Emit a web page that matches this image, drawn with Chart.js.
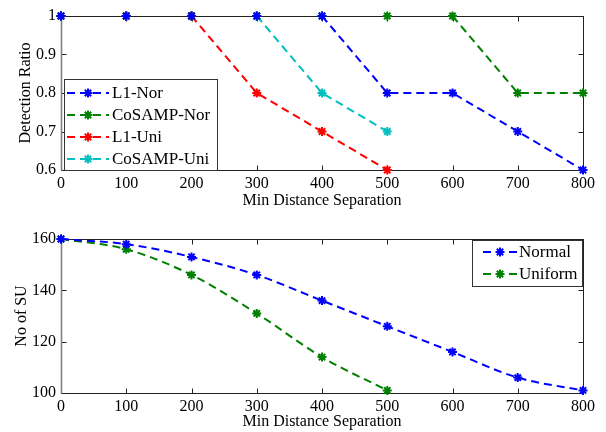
<!DOCTYPE html>
<html>
<head>
<meta charset="utf-8">
<script src="https://cdn.jsdelivr.net/npm/chart.js@4.4.1/dist/chart.umd.min.js"></script>
<style>
  body { margin: 0; background: #fff; }
  .panel { position: absolute; left: 0; width: 606px; height: 216px; }
</style>
</head>
<body>
<div class="panel" style="top:0"><canvas id="chart1" width="606" height="216"></canvas></div>
<div class="panel" style="top:216px"><canvas id="chart2" width="606" height="216"></canvas></div>
<script>
const distances = [0, 100, 200, 300, 400, 500, 600, 700, 800];
const l1Nor = [1, 1, 1, 1, 1, 0.8, 0.8, 0.7, 0.6];
const cosampNor = [1, 1, 1, 1, 1, 1, 1, 0.8, 0.8];
const l1Uni = [1, 1, 1, 0.8, 0.7, 0.6];
const cosampUni = [1, 1, 1, 1, 0.8, 0.7];
const suNormal = [160, 158, 153, 146, 136, 126, 116, 106, 101];
const suUniform = [160, 156, 146, 131, 114, 101];
const ratioTicks = [0.6, 0.7, 0.8, 0.9, 1];
const suTicks = [100, 120, 140, 160];

Chart.defaults.font.family = '"Liberation Serif", "Times New Roman", serif';
Chart.defaults.font.size = 16;
Chart.defaults.color = '#000';

const toPoints = vals => vals.map((v, i) => ({ x: distances[i], y: v }));

// a dashed series with star markers, in the old plotting style
function series(label, color, vals, opts) {
  const o = opts || {};
  return {
    label: label,
    data: toPoints(vals),
    borderColor: color,
    backgroundColor: color,
    borderWidth: 2,
    borderDash: [8, 5],
    pointStyle: 'star',
    pointRadius: 4.5,
    pointBorderWidth: 2,
    pointBorderColor: color,
    tension: 0,
    cubicInterpolationMode: o.smooth ? 'monotone' : 'default',
    clip: false,
    segment: o.hideAt !== undefined ? {
      // runs along the top edge sit under the frame
      borderColor: c => (c.p0.parsed.y === o.hideAt && c.p1.parsed.y === o.hideAt) ? 'rgba(0,0,0,0)' : undefined
    } : undefined
  };
}

// box around the plot area with inward ticks on all four sides
const framePlugin = {
  id: 'frame',
  beforeDatasetsDraw(chart) {
    const { ctx, chartArea: a, scales: { x, y } } = chart;
    const l = Math.round(a.left) + 0.5, t = Math.round(a.top) + 0.5;
    const r = Math.round(a.right) + 0.5, b = Math.round(a.bottom) + 0.5;
    ctx.save();
    ctx.lineWidth = 1;
    ctx.strokeStyle = '#222';
    ctx.beginPath();
    ctx.moveTo(l, t); ctx.lineTo(r, t); ctx.lineTo(r, b); ctx.lineTo(l, b);
    x.ticks.forEach(tk => {
      const px = Math.round(x.getPixelForValue(tk.value)) + 0.5;
      ctx.moveTo(px, b); ctx.lineTo(px, b - 5);
      ctx.moveTo(px, t); ctx.lineTo(px, t + 5);
    });
    y.ticks.forEach(tk => {
      const py = Math.round(y.getPixelForValue(tk.value)) + 0.5;
      ctx.moveTo(l, py); ctx.lineTo(l + 5, py);
      ctx.moveTo(r, py); ctx.lineTo(r - 5, py);
    });
    ctx.stroke();
    // left spine is drawn a little heavier and greyer
    ctx.strokeStyle = '#808080';
    ctx.lineWidth = 1.6;
    ctx.beginPath();
    ctx.moveTo(l, t); ctx.lineTo(l, b);
    ctx.stroke();
    ctx.restore();
  }
};

// legend drawn as a framed box inside the axes
const boxLegendPlugin = {
  id: 'boxLegend',
  afterDatasetsDraw(chart, args, o) {
    const ctx = chart.ctx;
    ctx.save();
    ctx.fillStyle = '#fff';
    ctx.fillRect(o.left, o.top, o.width, o.height);
    ctx.strokeStyle = '#333';
    ctx.lineWidth = 1;
    ctx.strokeRect(o.left + 0.5, o.top + 0.5, o.width, o.height);
    chart.data.datasets.forEach((ds, i) => {
      const y = o.top + o.firstRow + i * o.rowHeight;
      ctx.strokeStyle = ds.borderColor;
      ctx.fillStyle = ds.borderColor;
      ctx.lineWidth = 2;
      ctx.setLineDash([8, 5]);
      ctx.beginPath();
      ctx.moveTo(o.lineFrom, y);
      ctx.lineTo(o.lineTo, y);
      ctx.stroke();
      ctx.setLineDash([]);
      Chart.helpers.drawPoint(ctx, { pointStyle: 'star', radius: 4.5, borderWidth: 2 },
        (o.lineFrom + o.lineTo) / 2, y);
      ctx.fillStyle = '#000';
      ctx.font = '17px "Liberation Serif", serif';
      ctx.textBaseline = 'middle';
      ctx.fillText(ds.label, o.textX, y + 1);
    });
    ctx.restore();
  }
};

function axes(yMin, yMax, yTicks, yTitle, xHeight, xTitlePad, yTitlePad) {
  return {
    x: {
      type: 'linear', min: 0, max: 800,
      afterBuildTicks: s => { s.ticks = distances.map(v => ({ value: v })); },
      afterFit: s => { s.height = xHeight; },
      grid: { display: false, drawTicks: false, tickLength: 0 }, border: { display: false },
      ticks: { padding: 4, maxRotation: 0, callback: v => String(v) },
      title: { display: true, text: 'Min Distance Separation', padding: { top: 0, bottom: xTitlePad } }
    },
    y: {
      type: 'linear', min: yMin, max: yMax,
      afterBuildTicks: s => { s.ticks = yTicks.map(v => ({ value: v })); },
      afterFit: s => { s.width = 61; },
      grid: { display: false, drawTicks: false, tickLength: 0 }, border: { display: false },
      ticks: { padding: 5, callback: v => String(v) },
      title: { display: true, text: yTitle, padding: { top: yTitlePad, bottom: 0 } }
    }
  };
}

new Chart(document.getElementById('chart1'), {
  type: 'line',
  data: {
    datasets: [
      series('L1-Nor', '#0000ff', l1Nor, { hideAt: 1 }),
      series('CoSAMP-Nor', '#008000', cosampNor, { hideAt: 1 }),
      series('L1-Uni', '#ff0000', l1Uni, { hideAt: 1 }),
      series('CoSAMP-Uni', '#00bfbf', cosampUni, { hideAt: 1 })
    ]
  },
  options: {
    responsive: false,
    animation: false,
    layout: { padding: { top: 16, right: 23, left: 0, bottom: 0 } },
    scales: axes(0.6, 1, ratioTicks, 'Detection Ratio', 46, 6, 16),
    plugins: {
      legend: { display: false },
      tooltip: { enabled: false },
      boxLegend: { left: 64, top: 79, width: 153, height: 91, firstRow: 14, rowHeight: 22, lineFrom: 67, lineTo: 109, textX: 112 }
    }
  },
  plugins: [framePlugin, boxLegendPlugin]
});

new Chart(document.getElementById('chart2'), {
  type: 'line',
  data: {
    datasets: [
      series('Normal', '#0000ff', suNormal, { smooth: true }),
      series('Uniform', '#008000', suUniform, { smooth: true })
    ]
  },
  options: {
    responsive: false,
    animation: false,
    layout: { padding: { top: 23, right: 23, left: 0, bottom: 0 } },
    scales: axes(100, 160, suTicks, 'No of SU', 39, 1, 12),
    plugins: {
      legend: { display: false },
      tooltip: { enabled: false },
      boxLegend: { left: 472, top: 24, width: 110, height: 46, firstRow: 12, rowHeight: 22, lineFrom: 483, lineTo: 517, textX: 519 }
    }
  },
  plugins: [framePlugin, boxLegendPlugin]
});
</script>
</body>
</html>
